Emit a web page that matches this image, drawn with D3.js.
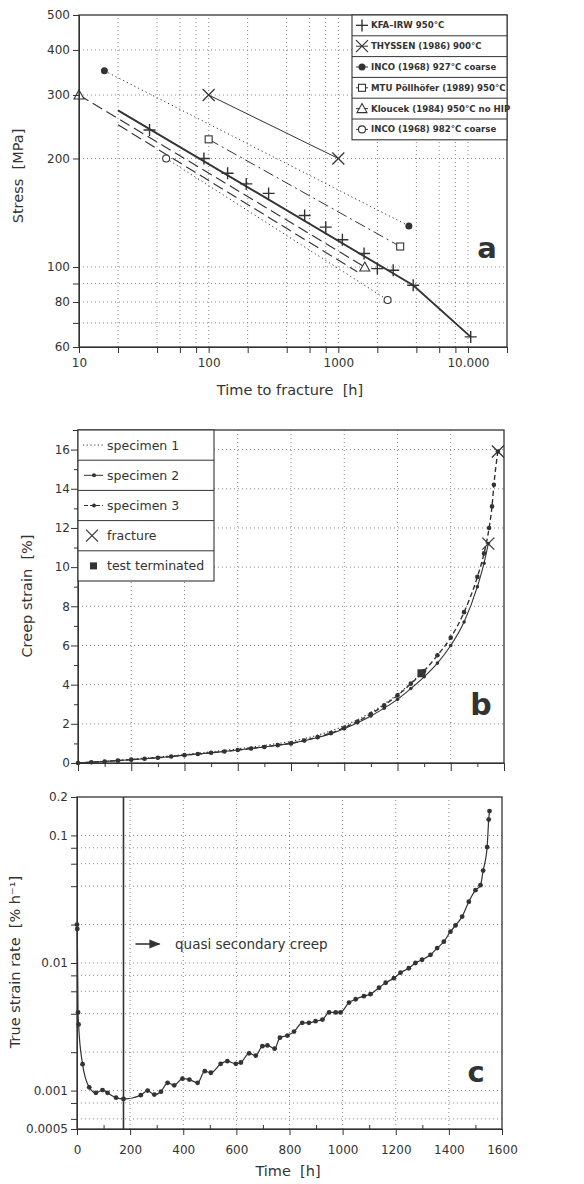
<!DOCTYPE html>
<html>
<head>
<meta charset="utf-8">
<script src="https://cdn.jsdelivr.net/npm/d3@7"></script>
<style>
  body { margin: 0; background: #fff; }
  text { font-family: "DejaVu Sans", sans-serif; fill: #333; }
  .domain { stroke: #333; }
  .tick line { stroke: #333; }
</style>
</head>
<body>
<svg id="fig" width="584" height="1184"></svg>
<script>
// ---- panel a : stress vs time to fracture ----
const kfaTime = [35, 92, 140, 195, 290, 550, 800, 1075, 1580, 2000, 2650, 3780, 10500];
const kfaStress = [240, 200, 182, 170, 160, 139, 129, 119, 109, 99, 98, 89, 64];
const kfaFitTime = [20, 3780, 10500];
const kfaFitStress = [272, 89, 64];
const thyssenTime = [100, 1000];
const thyssenStress = [300, 200];
const inco927Time = [15.7, 3500];
const inco927Stress = [350, 130];
const mtuTime = [100, 3000];
const mtuStress = [226, 114];
const kloucekTime = [10, 1600];
const kloucekStress = [300, 100];
const kloucek2Time = [20, 1400];
const kloucek2Stress = [248, 97];
const inco982Time = [47, 2400];
const inco982Stress = [200, 81];
const legendA = ["KFA\u2013IRW 950\u00b0C", "THYSSEN (1986) 900\u00b0C", "INCO (1968) 927\u00b0C coarse",
  "MTU P\u00f6llh\u00f6fer (1989) 950\u00b0C", "Kloucek (1984) 950\u00b0C no HIP", "INCO (1968) 982\u00b0C coarse"];
const xTicksA = [10, 20, 40, 60, 80, 100, 200, 400, 600, 800, 1000, 2000, 4000, 6000, 8000, 10000, 20000];
const xLabelsA = {10: "10", 100: "100", 1000: "1000", 10000: "10.000"};
const yTicksA = [500, 400, 300, 200, 100, 90, 80, 70, 60];
const yLabelsA = [500, 400, 300, 200, 100, 80, 60];

// ---- panel b : creep curves ----
const spec1Time = [0, 100, 200, 300, 400, 500, 600, 700, 800, 900, 1000, 1100, 1200, 1290];
const spec1Strain = [0, 0.09, 0.19, 0.30, 0.43, 0.57, 0.72, 0.90, 1.10, 1.42, 1.90, 2.58, 3.5, 4.58];
const spec2Time = [0, 50, 100, 150, 200, 250, 300, 350, 400, 450, 500, 550, 600, 650, 700, 750, 800,
  850, 900, 950, 1000, 1050, 1100, 1150, 1200, 1250, 1300, 1350, 1400, 1450, 1500, 1525, 1541];
const spec2Strain = [0, 0.04, 0.08, 0.12, 0.17, 0.22, 0.27, 0.33, 0.40, 0.46, 0.52, 0.59, 0.66, 0.74, 0.82, 0.91, 1.00,
  1.14, 1.30, 1.50, 1.75, 2.05, 2.40, 2.80, 3.25, 3.80, 4.40, 5.10, 6.00, 7.20, 9.00, 10.2, 11.2];
const spec3Time = [0, 50, 100, 150, 200, 250, 300, 350, 400, 450, 500, 550, 600, 650, 700, 750, 800,
  850, 900, 950, 1000, 1050, 1100, 1150, 1200, 1250, 1300, 1350, 1400, 1450, 1500, 1525, 1544, 1555, 1562, 1577];
const spec3Strain = [0, 0.04, 0.08, 0.12, 0.17, 0.22, 0.27, 0.33, 0.40, 0.46, 0.52, 0.59, 0.66, 0.74, 0.82, 0.91, 1.00,
  1.15, 1.32, 1.53, 1.80, 2.12, 2.50, 2.95, 3.45, 4.05, 4.70, 5.50, 6.40, 7.70, 9.50, 10.7, 12.0, 13.1, 14.2, 15.9];
const fractureTime = [1541, 1577];
const fractureStrain = [11.2, 15.9];
const terminatedTime = [1290];
const terminatedStrain = [4.58];
const legendB = ["specimen 1", "specimen 2", "specimen 3", "fracture", "test terminated"];
const yTicksB = [0, 2, 4, 6, 8, 10, 12, 14, 16];

// ---- panel c : true strain rate ----
const rateTime = [0, 1, 4, 6, 21, 46, 71, 96, 115, 147, 175, 240, 266, 291, 316, 341, 366, 397, 423, 454,
  481, 504, 541, 566, 598, 617, 648, 673, 698, 717, 744, 764, 792, 817, 848, 873, 898, 924, 949, 974,
  992, 1024, 1049, 1080, 1105, 1137, 1162, 1193, 1218, 1249, 1274, 1299, 1331, 1356, 1381, 1406, 1425, 1450, 1475, 1500,
  1519, 1529, 1544, 1550, 1553];
const rateValue = [0.020, 0.0185, 0.0041, 0.0033, 0.00161, 0.00106, 0.00096, 0.00101, 0.00096, 0.00088, 0.00086, 0.00092, 0.00100, 0.00093, 0.00098, 0.00115, 0.00110, 0.00124, 0.00122, 0.00115,
  0.00142, 0.00138, 0.00162, 0.00170, 0.00162, 0.00166, 0.00196, 0.00188, 0.00223, 0.00226, 0.00213, 0.0026, 0.0027, 0.0029, 0.0034, 0.0034, 0.0035, 0.0036, 0.0041, 0.0041,
  0.0041, 0.0049, 0.0052, 0.0055, 0.0057, 0.0064, 0.0070, 0.0076, 0.0084, 0.0091, 0.0100, 0.0106, 0.0116, 0.0131, 0.0147, 0.0176, 0.0197, 0.0231, 0.0302, 0.0372,
  0.0407, 0.053, 0.081, 0.133, 0.155];
const secondaryStart = 175;
const yTicksC = [0.2, 0.1, 0.08, 0.06, 0.04, 0.02, 0.01, 0.008, 0.006, 0.004, 0.002, 0.001, 0.0008, 0.0006, 0.0005];
const yLabelsC = {0.2: "0.2", 0.1: "0.1", 0.01: "0.01", 0.001: "0.001", 0.0005: "0.0005"};
const timeTicks = [0, 200, 400, 600, 800, 1000, 1200, 1400, 1600];

const ink = "#333";
const gridCol = "#888";
const svg = d3.select("#fig");
const zip = (a, b) => a.map((v, i) => [v, b[i]]);

function marker(g, type, x, y) {
  if (type === "plus") {
    g.append("path").attr("d", `M${x-6},${y}H${x+6}M${x},${y-6}V${y+6}`)
      .attr("stroke", ink).attr("stroke-width", 1.4).attr("fill", "none");
  } else if (type === "cross") {
    g.append("path").attr("d", `M${x-6},${y-6}L${x+6},${y+6}M${x-6},${y+6}L${x+6},${y-6}`)
      .attr("stroke", ink).attr("stroke-width", 1.2).attr("fill", "none");
  } else if (type === "dot") {
    g.append("circle").attr("cx", x).attr("cy", y).attr("r", 3.5).attr("fill", ink);
  } else if (type === "square") {
    g.append("rect").attr("x", x - 3.5).attr("y", y - 3.5).attr("width", 7).attr("height", 7)
      .attr("fill", "#fff").attr("stroke", ink).attr("stroke-width", 1.1);
  } else if (type === "triangle") {
    g.append("path").attr("d", `M${x},${y-5}L${x+5},${y+4}L${x-5},${y+4}Z`)
      .attr("fill", "#fff").attr("stroke", ink).attr("stroke-width", 1.1);
  } else if (type === "circle") {
    g.append("circle").attr("cx", x).attr("cy", y).attr("r", 3.5)
      .attr("fill", "#fff").attr("stroke", ink).attr("stroke-width", 1.1);
  }
}

function grid(g, x, y, xs, ys) {
  xs.forEach(v => g.append("line").attr("x1", x(v)).attr("x2", x(v))
    .attr("y1", y.range()[0]).attr("y2", y.range()[1])
    .attr("stroke", gridCol).attr("stroke-dasharray", "1,3"));
  ys.forEach(v => g.append("line").attr("y1", y(v)).attr("y2", y(v))
    .attr("x1", x.range()[0]).attr("x2", x.range()[1])
    .attr("stroke", gridCol).attr("stroke-dasharray", "1,3"));
}

function frame(g, x, y) {
  g.append("rect").attr("x", x.range()[0]).attr("y", y.range()[1])
    .attr("width", x.range()[1] - x.range()[0]).attr("height", y.range()[0] - y.range()[1])
    .attr("fill", "none").attr("stroke", ink).attr("stroke-width", 1.3);
}

// =================== panel a ===================
const xA = d3.scaleLog().domain([10, 20000]).range([79, 507]);
const yA = d3.scaleLog().domain([60, 500]).range([347, 15]);
const gA = svg.append("g");
grid(gA, xA, yA, [20, 40, 60, 80, 100, 200, 400, 600, 800, 1000, 2000, 4000, 6000, 8000, 10000], [70, 80, 90, 100, 200, 300, 400]);

const lineA = d3.line().x(d => xA(d[0])).y(d => yA(d[1]));
const seriesA = [
  {t: kfaFitTime, s: kfaFitStress, w: 1.9, dash: null},
  {t: thyssenTime, s: thyssenStress, w: 1, dash: null},
  {t: inco927Time, s: inco927Stress, w: 1, dash: "1.2,3"},
  {t: mtuTime, s: mtuStress, w: 1, dash: "11,4,2,4"},
  {t: kloucekTime, s: kloucekStress, w: 1.1, dash: "11,5"},
  {t: kloucek2Time, s: kloucek2Stress, w: 1.1, dash: "11,5"},
  {t: inco982Time, s: inco982Stress, w: 1, dash: "1.2,3"}
];
seriesA.forEach(sr => {
  gA.append("path").attr("d", lineA(zip(sr.t, sr.s))).attr("fill", "none")
    .attr("stroke", ink).attr("stroke-width", sr.w).attr("stroke-dasharray", sr.dash);
});
zip(kfaTime, kfaStress).forEach(d => marker(gA, "plus", xA(d[0]), yA(d[1])));
zip(thyssenTime, thyssenStress).forEach(d => marker(gA, "cross", xA(d[0]), yA(d[1])));
zip(inco927Time, inco927Stress).forEach(d => marker(gA, "dot", xA(d[0]), yA(d[1])));
zip(mtuTime, mtuStress).forEach(d => marker(gA, "square", xA(d[0]), yA(d[1])));
zip(kloucekTime, kloucekStress).forEach(d => marker(gA, "triangle", xA(d[0]), yA(d[1])));
zip(inco982Time, inco982Stress).forEach(d => marker(gA, "circle", xA(d[0]), yA(d[1])));

gA.append("g").attr("transform", "translate(0,347)")
  .call(d3.axisBottom(xA).tickValues(xTicksA).tickSize(6).tickPadding(5)
    .tickFormat(d => xLabelsA[d] || ""))
  .call(g => g.selectAll("text").attr("font-size", 12).attr("fill", ink).attr("font-family", "DejaVu Sans"));
gA.append("g").attr("transform", "translate(79,0)")
  .call(d3.axisLeft(yA).tickValues(yTicksA).tickSize(6).tickPadding(3)
    .tickFormat(d => yLabelsA.includes(d) ? d : ""))
  .call(g => g.selectAll("text").attr("font-size", 12).attr("fill", ink).attr("font-family", "DejaVu Sans"));
frame(gA, xA, yA);

// legend a
const legA = gA.append("g");
const rowA = 20.8;
legA.append("rect").attr("x", 352).attr("y", 15).attr("width", 155).attr("height", rowA * 6)
  .attr("fill", "#fff").attr("stroke", ink).attr("stroke-width", 1.1);
const legTypes = ["plus", "cross", "dot", "square", "triangle", "circle"];
legendA.forEach((txt, i) => {
  const cy = 15 + rowA * i + rowA / 2;
  if (i > 0) legA.append("line").attr("x1", 352).attr("x2", 507).attr("y1", 15 + rowA * i).attr("y2", 15 + rowA * i)
    .attr("stroke", ink).attr("stroke-width", 1);
  legA.append("line").attr("x1", 356).attr("x2", 368).attr("y1", cy).attr("y2", cy).attr("stroke", ink);
  marker(legA, legTypes[i], 362, cy);
  legA.append("text").attr("x", 371).attr("y", cy + 3).attr("font-size", 8.6).attr("font-weight", 600).text(txt);
});

gA.append("text").attr("x", 487).attr("y", 258).attr("text-anchor", "middle")
  .attr("font-size", 29).attr("font-weight", "bold").text("a");
gA.append("text").attr("x", 290).attr("y", 395).attr("text-anchor", "middle")
  .attr("font-size", 14.5).attr("xml:space", "preserve").text("Time to fracture  [h]");
gA.append("text").attr("transform", "translate(23,176) rotate(-90)").attr("text-anchor", "middle")
  .attr("font-size", 14.5).attr("xml:space", "preserve").text("Stress  [MPa]");

// =================== panel b ===================
const xB = d3.scaleLinear().domain([0, 1600]).range([78, 504]);
const yB = d3.scaleLinear().domain([0, 17]).range([763, 430]);
const gB = svg.append("g");
grid(gB, xB, yB, [200, 400, 600, 800, 1000, 1200, 1400], [2, 4, 6, 8, 10, 12, 14, 16]);

const lineB = d3.line().x(d => xB(d[0])).y(d => yB(d[1])).curve(d3.curveMonotoneX);
gB.append("path").attr("d", lineB(zip(spec1Time, spec1Strain))).attr("fill", "none")
  .attr("stroke", ink).attr("stroke-width", 1.2).attr("stroke-dasharray", "1.2,2.5");
gB.append("path").attr("d", lineB(zip(spec2Time, spec2Strain))).attr("fill", "none")
  .attr("stroke", ink).attr("stroke-width", 1.1);
gB.append("path").attr("d", lineB(zip(spec3Time, spec3Strain))).attr("fill", "none")
  .attr("stroke", ink).attr("stroke-width", 1.4).attr("stroke-dasharray", "5,3");
zip(spec2Time, spec2Strain).forEach(d => gB.append("circle").attr("cx", xB(d[0])).attr("cy", yB(d[1])).attr("r", 1.8).attr("fill", ink));
zip(spec3Time, spec3Strain).forEach(d => gB.append("circle").attr("cx", xB(d[0])).attr("cy", yB(d[1])).attr("r", 2.3).attr("fill", ink));
zip(fractureTime, fractureStrain).forEach(d => marker(gB, "cross", xB(d[0]), yB(d[1])));
zip(terminatedTime, terminatedStrain).forEach(d => gB.append("rect")
  .attr("x", xB(d[0]) - 4).attr("y", yB(d[1]) - 4).attr("width", 8).attr("height", 8).attr("fill", ink));

gB.append("g").attr("transform", "translate(0,763)")
  .call(d3.axisBottom(xB).ticks(16).tickSize(4).tickFormat(""))
  .call(g => g.selectAll(".tick line").attr("y2", d => d % 200 === 0 ? 8 : 4));
gB.append("g").attr("transform", "translate(78,0)")
  .call(d3.axisLeft(yB).ticks(17).tickSize(5).tickPadding(3).tickFormat(d => yTicksB.includes(d) ? d : ""))
  .call(g => g.selectAll(".tick line").attr("x2", d => d % 2 === 0 ? -7 : -4))
  .call(g => g.selectAll("text").attr("font-size", 12).attr("fill", ink).attr("font-family", "DejaVu Sans"));
frame(gB, xB, yB);

// legend b
const legB = gB.append("g");
const rowB = 30.2;
legB.append("rect").attr("x", 78).attr("y", 430).attr("width", 136).attr("height", rowB * 5)
  .attr("fill", "#fff").attr("stroke", ink).attr("stroke-width", 1.1);
legendB.forEach((txt, i) => {
  const cy = 430 + rowB * i + rowB / 2;
  if (i > 0) legB.append("line").attr("x1", 78).attr("x2", 214).attr("y1", 430 + rowB * i).attr("y2", 430 + rowB * i)
    .attr("stroke", ink).attr("stroke-width", 1);
  if (i === 0) legB.append("line").attr("x1", 83).attr("x2", 103).attr("y1", cy).attr("y2", cy)
    .attr("stroke", ink).attr("stroke-dasharray", "1.2,2.5");
  if (i === 1 || i === 2) {
    legB.append("line").attr("x1", 84).attr("x2", 103).attr("y1", cy).attr("y2", cy).attr("stroke", ink)
      .attr("stroke-dasharray", i === 2 ? "4,2" : null);
    legB.append("circle").attr("cx", 94).attr("cy", cy).attr("r", 2).attr("fill", ink);
  }
  if (i === 3) marker(legB, "cross", 92, cy);
  if (i === 4) legB.append("rect").attr("x", 90).attr("y", cy - 3.5).attr("width", 7).attr("height", 7).attr("fill", ink);
  legB.append("text").attr("x", 107).attr("y", cy + 4.5).attr("font-size", 12.5).text(txt);
});

gB.append("text").attr("x", 481).attr("y", 715).attr("text-anchor", "middle")
  .attr("font-size", 30).attr("font-weight", "bold").text("b");
gB.append("text").attr("transform", "translate(32,596) rotate(-90)").attr("text-anchor", "middle")
  .attr("font-size", 14.5).attr("xml:space", "preserve").text("Creep strain  [%]");

// =================== panel c ===================
const xC = d3.scaleLinear().domain([0, 1600]).range([77, 502]);
const yC = d3.scaleLog().domain([0.0005, 0.2]).range([1129, 797]);
const gC = svg.append("g");
grid(gC, xC, yC, [200, 400, 600, 800, 1000, 1200, 1400],
  [0.1, 0.08, 0.06, 0.04, 0.02, 0.01, 0.008, 0.006, 0.004, 0.002, 0.001, 0.0008, 0.0006]);

gC.append("line").attr("x1", xC(secondaryStart)).attr("x2", xC(secondaryStart))
  .attr("y1", 797).attr("y2", 1129).attr("stroke", ink).attr("stroke-width", 1.6);

const lineC = d3.line().x(d => xC(d[0])).y(d => yC(d[1])).curve(d3.curveMonotoneX);
const rateData = zip(rateTime, rateValue);
gC.append("path").attr("d", lineC(rateData)).attr("fill", "none").attr("stroke", ink).attr("stroke-width", 1.2);
rateData.forEach(d => gC.append("circle").attr("cx", xC(d[0])).attr("cy", yC(d[1])).attr("r", 2.4).attr("fill", ink));

gC.append("g").attr("transform", "translate(0,1129)")
  .call(d3.axisBottom(xC).ticks(16).tickSize(5).tickPadding(11).tickFormat(d => timeTicks.includes(d) ? d : ""))
  .call(g => g.selectAll(".tick line").attr("y2", d => d % 200 === 0 ? 6 : -4))
  .call(g => g.selectAll("text").attr("font-size", 12).attr("fill", ink).attr("font-family", "DejaVu Sans"));
gC.append("g").attr("transform", "translate(77,0)")
  .call(d3.axisLeft(yC).tickValues(yTicksC).tickSize(6).tickPadding(3).tickFormat(d => yLabelsC[d] || ""))
  .call(g => g.selectAll("text").attr("font-size", 12).attr("fill", ink).attr("font-family", "DejaVu Sans"));
frame(gC, xC, yC);

// arrow annotation
gC.append("defs").append("marker").attr("id", "arr").attr("viewBox", "0 0 10 10")
  .attr("refX", 9).attr("refY", 5).attr("markerWidth", 9).attr("markerHeight", 7).attr("orient", "auto")
  .append("path").attr("d", "M0,1L10,5L0,9Z").attr("fill", ink);
gC.append("line").attr("x1", xC(secondaryStart) + 12).attr("x2", xC(secondaryStart) + 36)
  .attr("y1", 944).attr("y2", 944).attr("stroke", ink).attr("stroke-width", 1.6).attr("marker-end", "url(#arr)");
gC.append("text").attr("x", 175).attr("y", 949).attr("font-size", 13.5).text("quasi secondary creep");

gC.append("text").attr("x", 476).attr("y", 1082).attr("text-anchor", "middle")
  .attr("font-size", 29).attr("font-weight", "bold").text("c");
gC.append("text").attr("x", 288).attr("y", 1176).attr("text-anchor", "middle")
  .attr("font-size", 14.5).attr("xml:space", "preserve").text("Time  [h]");
gC.append("text").attr("transform", "translate(20,962) rotate(-90)").attr("text-anchor", "middle")
  .attr("font-size", 14.5).attr("xml:space", "preserve").text("True strain rate  [% h\u207b\u00b9]");
</script>
</body>
</html>
